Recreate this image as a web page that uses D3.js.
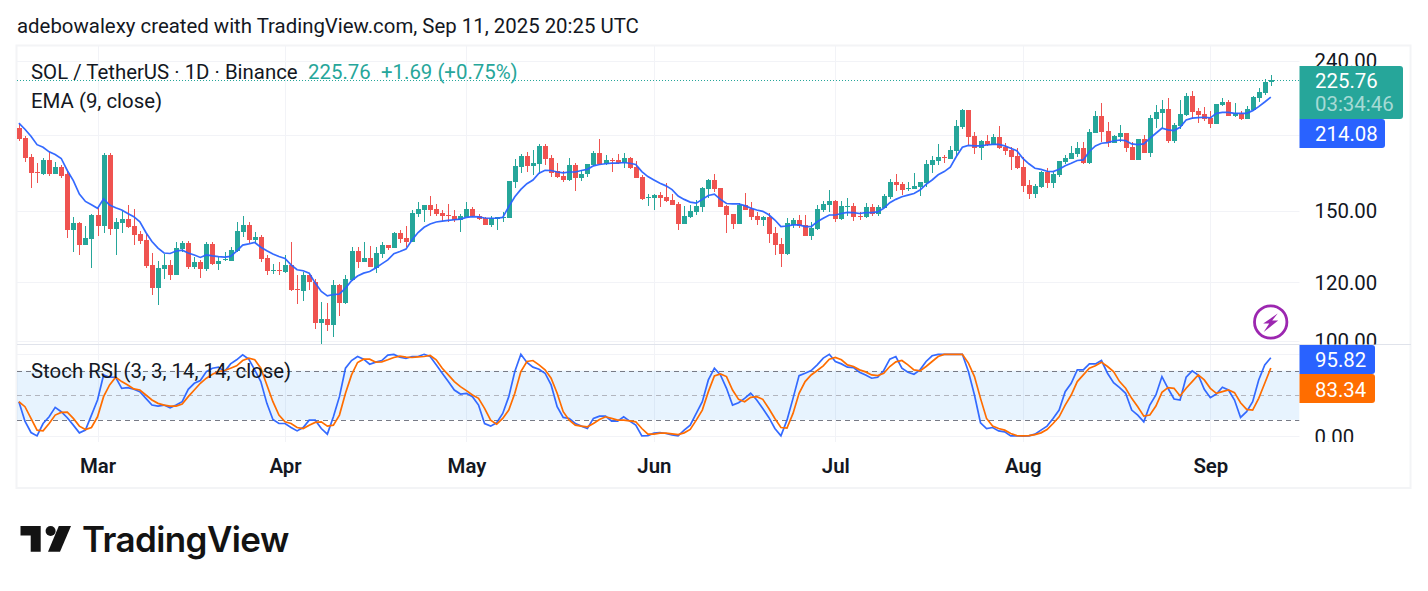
<!DOCTYPE html>
<html>
<head>
<meta charset="utf-8">
<script src="https://cdn.jsdelivr.net/npm/d3@7/dist/d3.min.js"></script>
<style>
  html, body { margin: 0; padding: 0; background: #fff; }
  svg { display: block; font-family: Roboto, sans-serif; }
</style>
</head>
<body>
<svg id="chart" width="1428" height="591"></svg>
<script>
// SOL/USDT daily candles, 16 Feb 2025 to 11 Sep 2025
const firstDay = "2025-02-16";
const lastDay = "2025-09-11";

const opens = [
194.6,188.6,177.6,169.4,168.4,175.9,168.4,172.1,168.2,141.3,
144.4,134.9,137.4,148.1,143.1,178.7,141.8,144.4,146.2,143.1,
139.6,137.0,126.7,117.9,125.1,126.7,122.8,133.2,135.7,125.9,
127.9,125.1,135.3,127.1,128.6,128.3,132.4,140.6,143.6,137.0,
138.3,129.5,124.3,124.7,124.0,126.7,117.6,116.8,122.8,120.1,
105.7,107.0,105.1,119.0,112.6,120.9,132.4,127.9,129.5,125.5,
131.2,134.9,133.6,140.0,137.9,136.2,148.5,150.4,152.8,150.9,
149.0,148.1,147.6,145.8,147.2,150.9,147.8,146.9,143.6,146.2,
146.7,146.7,164.2,172.1,178.2,172.7,173.8,183.8,177.0,169.8,
167.4,165.2,173.2,166.3,168.4,173.2,179.8,173.8,176.1,175.9,
174.3,177.0,172.1,166.8,156.5,156.2,157.6,156.7,155.2,153.3,
144.0,147.2,149.5,151.8,160.6,165.2,161.1,152.3,148.5,144.0,
152.8,150.9,147.6,145.8,147.2,140.0,135.3,131.2,143.6,145.8,
143.6,138.7,141.8,150.4,152.8,154.7,146.2,152.0,152.3,147.8,
147.2,151.8,148.5,151.3,156.7,164.2,163.2,160.6,160.6,161.6,
163.7,173.2,175.4,177.6,176.5,180.9,195.0,205.6,189.6,182.6,
186.6,184.3,189.0,183.2,181.5,178.2,172.1,162.7,158.1,161.6,
169.4,163.7,167.9,174.8,176.5,179.3,182.6,174.3,191.4,201.8,
192.6,185.5,189.0,191.4,183.2,175.9,187.8,179.8,199.9,203.7,
206.3,186.6,195.6,202.5,214.8,205.0,203.1,200.6,196.9,208.9,
210.8,201.8,203.1,199.9,205.6,213.5,216.9,224.07];

const highs = [
197.1,189.6,179.1,174.1,177.2,180.2,174.8,173.2,170.0,147.2,
145.1,143.1,148.5,151.2,179.8,179.6,146.5,149.9,152.8,150.9,
140.9,139.5,131.5,128.3,131.2,128.7,136.2,136.6,136.4,130.0,
128.7,136.2,136.2,129.8,131.9,133.9,144.9,147.6,144.9,140.5,
139.2,130.8,127.1,127.8,130.8,136.2,122.8,124.0,123.2,121.3,
112.9,112.6,120.9,119.4,122.8,134.1,134.1,136.2,134.5,133.9,
136.2,134.9,140.5,141.3,143.1,150.4,154.2,152.8,157.1,153.4,
150.4,153.3,150.4,148.5,154.2,151.8,148.5,147.2,147.6,147.2,
149.5,164.7,176.5,179.3,180.4,181.5,184.9,184.9,178.7,174.3,
170.0,177.0,174.3,170.5,173.8,180.9,187.8,178.7,177.0,179.3,
179.8,177.6,175.4,167.9,158.1,158.1,159.1,163.7,158.1,154.2,
152.3,152.8,155.2,161.6,165.8,168.4,161.1,152.8,148.5,153.7,
158.6,154.2,149.5,147.6,149.0,142.7,137.9,146.7,146.7,148.1,
148.1,144.9,152.8,154.7,160.1,155.2,154.7,156.2,153.7,149.5,
153.7,153.3,152.8,158.1,165.8,168.4,164.2,164.2,168.9,164.2,
175.9,178.2,184.9,178.7,183.8,199.3,206.3,205.6,192.0,187.2,
190.2,190.8,195.6,185.5,183.2,182.6,177.6,165.2,163.2,170.0,
171.6,169.4,175.4,178.7,183.8,186.0,186.0,193.8,205.0,210.2,
198.1,190.2,196.3,191.4,186.0,187.8,190.2,202.5,208.9,212.1,
213.5,197.5,212.1,216.9,218.2,206.9,207.6,205.0,209.5,213.5,
212.1,210.2,205.0,208.2,214.8,220.3,226.5,229.4];

const lows = [
186.6,175.0,161.1,163.9,167.9,167.5,168.4,166.3,137.9,132.0,
130.8,134.9,125.5,138.7,140.0,139.2,130.8,140.0,142.2,134.9,
135.3,125.5,115.4,111.9,121.4,120.9,122.8,132.0,125.1,125.1,
121.6,124.3,126.7,124.7,128.2,128.3,132.0,138.4,135.7,135.7,
127.9,122.8,123.2,122.8,123.6,116.8,112.2,113.3,117.2,103.8,
99.0,103.1,101.2,108.0,112.2,120.5,125.5,127.9,125.9,123.7,
129.5,132.8,133.6,135.7,134.1,136.2,147.2,144.9,147.6,147.6,
145.3,144.9,144.9,140.5,147.2,147.2,145.8,143.6,142.7,141.3,
144.9,146.7,161.1,168.9,169.4,167.9,168.4,173.2,166.8,166.3,
164.2,164.7,159.6,164.7,166.8,172.7,173.2,173.2,169.4,173.8,
171.6,171.0,166.3,155.2,152.3,150.4,151.8,154.2,152.8,141.3,
144.0,146.7,148.1,149.5,156.2,159.1,151.8,140.0,141.8,144.0,
150.4,145.8,143.6,143.1,135.7,130.8,125.9,130.8,142.2,142.2,
138.7,137.0,141.3,149.5,149.5,144.9,145.8,147.6,145.3,145.8,
146.7,147.6,147.6,151.3,155.7,159.6,157.6,159.6,160.6,157.1,
161.6,168.9,173.2,174.3,176.5,178.2,193.8,184.3,179.3,175.9,
183.8,184.3,182.1,178.7,170.5,171.0,159.1,155.7,156.2,161.1,
161.1,161.1,166.8,173.8,176.5,177.6,173.8,173.8,191.4,186.0,
183.2,185.5,186.0,180.4,175.9,175.9,179.8,177.6,194.4,194.4,
185.5,185.5,193.8,201.8,199.9,197.5,198.7,194.4,196.9,208.2,
201.8,201.2,199.3,199.9,205.0,210.8,215.5,221.7];

const closes = [
187.8,177.2,169.1,169.1,175.9,168.4,172.1,167.4,141.3,144.4,
134.9,137.9,148.1,143.1,178.7,141.8,144.9,146.2,142.7,139.2,
136.6,126.3,117.9,125.5,126.7,122.8,133.6,135.7,125.9,127.9,
125.1,135.3,127.1,128.3,128.9,132.8,140.9,143.6,137.0,138.3,
129.1,124.3,124.7,124.3,126.7,117.2,117.2,122.8,120.0,105.7,
107.0,105.1,119.0,112.6,121.3,132.4,127.9,129.5,125.9,131.6,
134.9,133.6,140.0,137.4,136.2,149.0,150.9,152.8,150.4,148.5,
147.6,147.8,145.8,147.6,150.9,147.6,146.2,143.6,146.7,147.2,
147.2,164.7,172.7,178.2,172.7,174.3,183.8,176.5,168.9,166.8,
165.2,173.2,166.3,168.4,173.8,179.8,173.8,175.9,175.7,174.3,
177.0,171.6,166.3,155.7,156.8,157.6,156.2,154.7,152.8,144.0,
147.6,149.9,152.3,161.1,165.2,160.6,151.8,148.1,144.0,152.8,
150.4,147.2,145.8,147.2,139.6,134.9,131.2,144.4,145.8,143.1,
138.7,142.2,150.9,153.3,154.7,146.2,152.3,152.3,147.2,147.5,
151.8,148.5,151.8,157.1,164.2,162.7,160.1,161.1,162.2,164.2,
173.8,175.9,177.6,177.2,181.5,195.6,205.6,189.0,182.6,186.6,
184.3,189.0,182.6,180.9,177.6,171.6,162.2,158.1,162.2,169.4,
163.7,168.4,175.4,177.0,179.8,182.6,174.3,192.0,201.8,192.0,
185.5,189.6,191.4,182.6,175.9,187.8,179.8,200.6,204.3,206.3,
186.6,196.3,203.1,214.8,204.3,202.5,199.9,196.9,209.5,210.8,
201.8,203.7,199.9,206.3,214.2,217.5,224.4,225.76];

const ema9 = [
197.3,193.6,189.4,184.5,183.0,180.4,178.9,176.7,170.2,164.9,
158.1,154.5,152.9,151.2,155.7,152.8,151.5,150.4,148.8,147.3,
145.0,140.2,136.3,133.5,131.5,131.3,132.3,132.7,131.5,130.7,
129.7,130.7,130.3,130.0,129.8,130.1,132.3,134.8,135.3,135.9,
133.9,132.4,131.1,130.1,129.3,126.7,124.8,124.4,123.5,119.7,
116.6,115.0,115.5,115.7,117.8,120.6,122.4,123.5,124.1,125.5,
127.1,128.7,131.2,132.1,133.1,137.0,140.2,142.5,144.0,144.9,
145.3,145.6,145.9,146.2,147.0,147.3,147.2,146.7,146.6,146.6,
147.0,152.0,156.8,160.4,163.3,165.2,168.7,170.3,170.2,169.4,
168.9,169.4,169.4,170.2,170.8,172.7,173.4,173.8,174.1,174.1,
174.5,174.1,173.4,169.6,167.0,165.2,163.5,162.2,160.3,157.1,
155.5,154.2,153.7,155.5,157.4,158.1,155.5,153.5,153.3,153.3,
152.5,151.3,150.4,149.8,148.2,145.8,142.8,143.1,143.6,143.6,
142.8,142.8,145.0,146.6,148.1,148.1,148.8,149.3,149.2,148.8,
149.2,149.2,149.5,151.2,153.9,155.5,156.8,157.6,158.4,160.1,
163.0,165.2,167.9,169.6,172.0,177.8,183.0,184.1,183.8,183.8,
184.3,184.7,184.7,183.8,182.4,181.1,176.8,173.8,171.4,170.8,
169.8,169.6,170.8,172.7,174.1,175.6,175.9,180.6,183.8,185.3,
185.7,186.6,187.2,186.8,184.9,184.5,184.9,188.2,191.2,194.2,
193.2,192.8,194.8,199.3,200.4,200.8,201.0,200.6,203.5,204.1,
204.1,203.5,203.5,203.5,205.2,207.8,210.8,214.08];

const stochK = [
42.1,18.4,4.5,0.4,15.5,23.7,35.2,29.9,22.5,13.5,
4.1,7.4,25.8,44.2,74.8,72.0,72.0,58.5,59.3,57.3,
54.4,46.2,38.0,36.8,38.0,34.8,38.0,42.1,57.3,64.6,
67.9,78.9,83.0,84.3,78.9,88.3,93.3,99.4,94.1,81.0,
66.7,40.1,20.4,15.5,15.5,10.6,6.5,10.6,19.6,19.6,
9.4,2.5,23.7,48.3,83.0,92.4,97.3,94.1,87.9,90.4,
92.4,99.0,99.8,96.5,94.9,97.3,97.3,100,97.3,87.1,
76.9,66.7,56.4,51.5,52.4,48.3,38.0,15.5,12.3,16.4,
27.8,48.3,78.9,100,90.0,84.3,81.8,76.9,62.6,36.0,
22.9,21.7,15.5,12.3,9.4,21.7,24.5,24.5,18.4,18.4,
23.7,18.4,13.5,0.4,0.8,3.7,4.5,3.3,1.6,0.4,
7.4,13.5,27.8,42.1,68.7,83.0,74.8,58.5,38.0,40.9,
46.2,52.4,44.2,33.9,22.9,9.4,0.4,19.6,46.2,74.0,
76.9,80.2,87.1,95.3,100,91.2,88.3,84.3,83.8,78.1,
74.8,70.8,72.0,80.2,94.1,97.3,83.0,78.1,75.7,81.0,
91.2,98.2,100,100,100,100,100,78.9,50.3,16.4,
9.4,10.6,6.5,5.3,0.4,0.4,0,0.4,2.5,7.4,
12.3,21.7,31.9,54.4,64.6,81.0,81.0,88.3,88.3,92.4,
76.9,65.4,59.3,52.4,31.9,25.8,17.6,38.0,50.3,72.8,
58.5,45.4,44.2,72.0,79.8,74.8,57.3,47.0,51.5,59.7,
56.4,44.2,22.9,29.9,42.1,68.7,87.1,95.82];

const stochD = [
42.1,36.0,21.7,7.4,6.5,15.5,25.8,29.0,29.4,21.7,
12.3,8.2,10.6,23.7,48.3,62.6,72.0,66.7,62.6,57.7,
56.4,50.3,44.2,40.1,38.0,36.8,36.8,39.3,48.3,56.4,
64.6,70.8,75.7,78.9,80.2,83.0,85.9,92.4,95.3,93.3,
83.0,62.6,42.1,25.8,17.6,15.5,10.6,9.4,13.5,16.8,
17.6,12.3,13.5,25.8,52.4,74.8,90.0,94.1,94.1,90.4,
90.8,93.3,96.1,97.8,96.5,96.1,96.9,97.3,98.6,93.3,
83.0,74.8,66.7,60.5,55.6,50.3,46.2,33.9,19.6,14.7,
21.7,31.9,52.4,78.9,91.2,92.4,87.1,81.0,70.8,52.4,
29.9,19.6,13.5,12.3,11.5,15.5,20.4,23.7,21.7,19.6,
19.6,18.8,17.6,9.4,2.5,2.5,3.7,3.7,2.9,2.0,
4.1,8.2,19.6,31.9,54.4,73.6,76.1,72.8,56.4,45.0,
42.1,47.4,48.3,45.0,33.9,21.7,10.6,9.8,27.8,52.4,
66.7,74.8,80.2,85.9,94.1,96.1,93.3,87.1,85.1,81.0,
78.5,74.8,74.0,76.9,85.1,90.8,92.4,87.1,81.0,79.8,
85.1,91.2,97.3,99.8,100,100,100,89.2,72.8,46.2,
21.7,12.3,9.4,7.4,3.3,0.8,0.4,0.8,2.0,4.1,
8.2,15.5,23.7,38.0,50.3,66.7,74.8,83.0,85.9,90.4,
85.1,78.9,66.7,58.5,46.2,36.0,24.5,25.8,36.8,53.6,
59.3,58.5,49.1,58.5,66.7,74.8,68.7,58.5,52.4,54.4,
56.4,53.2,40.9,32.7,31.9,46.2,64.6,83.34];

const priceTicks = [240, 150, 120, 100];
const priceGrid = [240, 190, 150, 120, 100];
const stochTicks = [0];
const stochGrid = [100, 0];
const stochBand = [20, 80];
const stochLevels = [
  { value: 80, colour: "#787b86" },
  { value: 50, colour: "#b2b5be" },
  { value: 20, colour: "#787b86" }
];

const lastPrice = closes[closes.length - 1];
const headerText = "adebowalexy created with TradingView.com, Sep 11, 2025 20:25 UTC";
const symbolText = "SOL / TetherUS · 1D · Binance";
const quoteText = ["225.76", "+1.69 (+0.75%)"];
const emaText = "EMA (9, close)";
const stochText = "Stoch RSI (3, 3, 14, 14, close)";
const countdownText = "03:34:46";

const UP = "#26a69a", DOWN = "#ef5350", BLUE = "#2962ff", ORANGE = "#ff6d00";
const GRID = "#f2f3f7", INK = "#131722", TEXT_SIZE = 20.4, LINE_WIDTH = 1.7;

const frame = { left: 17, right: 1411, top: 46, bottom: 488.5, plotRight: 1299.5, paneBreak: 344.5, axisTop: 442 };
const svg = d3.select("#chart");
const defs = svg.append("defs");
const addClip = (id, x, y, w, h) =>
  defs.append("clipPath").attr("id", id).append("rect").attr("x", x).attr("y", y).attr("width", w).attr("height", h);
addClip("price-clip", frame.left, frame.top, frame.plotRight - frame.left, frame.paneBreak - frame.top);
addClip("stoch-clip", frame.left, frame.paneBreak, frame.plotRight - frame.left, frame.axisTop - frame.paneBreak);
addClip("price-axis-clip", frame.plotRight, frame.top, 120, frame.paneBreak - frame.top);
addClip("stoch-axis-clip", frame.plotRight, frame.paneBreak, 120, frame.axisTop - frame.paneBreak);

const parseDay = d3.utcParse("%Y-%m-%d");
const days = d3.utcDay.range(parseDay(firstDay), d3.utcDay.offset(parseDay(lastDay), 1));
const x = d3.scaleUtc().domain([parseDay(firstDay), parseDay(lastDay)]).range([18.9, 1270.8]);
const y = d3.scaleLog().domain([100, 240]).range([340.65, 60.5]);
const yStoch = d3.scaleLinear().domain([0, 100]).range([436.2, 354.3]);
const crisp = v => Math.round(v) + 0.5;

// Header line above the chart frame
svg.append("text").attr("x", 17).attr("y", 33).attr("font-size", TEXT_SIZE).attr("fill", INK).text(headerText);

// Outer frame and the divider between the two panes
svg.append("rect").attr("x", frame.left - 0.5).attr("y", frame.top - 0.5)
  .attr("width", frame.right - frame.left).attr("height", frame.bottom - frame.top)
  .attr("fill", "none").attr("stroke", "#f3f4f6").attr("stroke-width", 2);

// Grid
const months = d3.utcMonth.range(d3.utcMonth.ceil(parseDay(firstDay)), parseDay(lastDay));
const grid = svg.append("g").attr("stroke", GRID).attr("stroke-width", 1);
grid.selectAll("line.v").data(months).join("line").attr("class", "v")
  .attr("x1", d => crisp(x(d))).attr("x2", d => crisp(x(d)))
  .attr("y1", frame.top).attr("y2", frame.axisTop);
grid.selectAll("line.p").data(priceGrid).join("line").attr("class", "p")
  .attr("x1", frame.left).attr("x2", frame.plotRight)
  .attr("y1", d => crisp(y(d))).attr("y2", d => crisp(y(d)));
grid.selectAll("line.s").data(stochGrid).join("line").attr("class", "s")
  .attr("x1", frame.left).attr("x2", frame.plotRight)
  .attr("y1", d => crisp(yStoch(d))).attr("y2", d => crisp(yStoch(d)));

svg.append("line").attr("x1", frame.left).attr("x2", frame.right)
  .attr("y1", frame.paneBreak).attr("y2", frame.paneBreak).attr("stroke", "#e0e3eb");

// Last price dotted marker line
svg.append("line").attr("x1", frame.left).attr("x2", frame.plotRight)
  .attr("y1", crisp(y(lastPrice))).attr("y2", crisp(y(lastPrice)))
  .attr("stroke", UP).attr("stroke-dasharray", "1 2");

// Candles
const candles = svg.append("g").attr("clip-path", "url(#price-clip)").attr("shape-rendering", "crispEdges");
const candle = candles.selectAll("g").data(days).join("g")
  .attr("fill", (d, i) => closes[i] >= opens[i] ? UP : DOWN);
candle.append("rect")
  .attr("x", d => Math.round(x(d)))
  .attr("width", 1)
  .attr("y", (d, i) => y(highs[i]))
  .attr("height", (d, i) => y(lows[i]) - y(highs[i]));
candle.append("rect")
  .attr("x", d => Math.round(x(d)) - 2)
  .attr("width", 5)
  .attr("y", (d, i) => y(Math.max(opens[i], closes[i])))
  .attr("height", (d, i) => Math.max(1, Math.abs(y(opens[i]) - y(closes[i]))));

// EMA(9) overlay
const lineFor = (scale, values) => d3.line()
  .x(d => x(d))
  .y((d, i) => scale(values[i]))(days);
svg.append("path").attr("clip-path", "url(#price-clip)")
  .attr("d", lineFor(y, ema9)).attr("fill", "none")
  .attr("stroke", BLUE).attr("stroke-width", LINE_WIDTH).attr("stroke-opacity", 0.95);

// Stochastic RSI pane
const stochPane = svg.append("g").attr("clip-path", "url(#stoch-clip)");
stochPane.append("rect").attr("x", frame.left).attr("width", frame.plotRight - frame.left)
  .attr("y", yStoch(stochBand[1])).attr("height", yStoch(stochBand[0]) - yStoch(stochBand[1]))
  .attr("fill", "#2196f3").attr("fill-opacity", 0.11);
stochPane.selectAll("line").data(stochLevels).join("line")
  .attr("x1", frame.left).attr("x2", frame.plotRight)
  .attr("y1", d => crisp(yStoch(d.value))).attr("y2", d => crisp(yStoch(d.value)))
  .attr("stroke", d => d.colour).attr("stroke-dasharray", "5 4");
stochPane.append("path").attr("d", lineFor(yStoch, stochK)).attr("fill", "none")
  .attr("stroke", BLUE).attr("stroke-width", LINE_WIDTH).attr("stroke-opacity", 0.95);
stochPane.append("path").attr("d", lineFor(yStoch, stochD)).attr("fill", "none")
  .attr("stroke", ORANGE).attr("stroke-width", LINE_WIDTH);

// Pane legends
const legend = svg.append("g").attr("font-size", TEXT_SIZE).attr("fill", INK);
const symbolLine = legend.append("text").attr("x", 31).attr("y", 79);
symbolLine.append("tspan").text(symbolText);
symbolLine.append("tspan").attr("x", 308).attr("fill", UP).text(quoteText[0]);
symbolLine.append("tspan").attr("x", 381).attr("fill", UP).text(quoteText[1]);
legend.append("text").attr("x", 31).attr("y", 108).text(emaText);
legend.append("text").attr("x", 31).attr("y", 378).text(stochText);

// Price and oscillator axes
const styleAxis = g => {
  g.select(".domain").remove();
  g.selectAll(".tick line").remove();
  g.selectAll(".tick text").attr("fill", INK).attr("font-size", TEXT_SIZE)
    .attr("font-family", "Roboto, sans-serif").attr("dy", "0.34em");
};
svg.append("g").attr("clip-path", "url(#price-axis-clip)").append("g")
  .attr("transform", `translate(${frame.plotRight},0)`)
  .call(d3.axisRight(y).tickValues(priceTicks).tickSize(0).tickPadding(15).tickFormat(d3.format(".2f")))
  .call(styleAxis);
svg.append("g").attr("clip-path", "url(#stoch-axis-clip)").append("g")
  .attr("transform", `translate(${frame.plotRight},0)`)
  .call(d3.axisRight(yStoch).tickValues(stochTicks).tickSize(0).tickPadding(15).tickFormat(d3.format(".2f")))
  .call(styleAxis);

// Time axis
svg.append("g").attr("transform", `translate(0,${frame.axisTop})`)
  .call(d3.axisBottom(x).tickValues(months).tickSize(0).tickPadding(17).tickFormat(d3.utcFormat("%b")))
  .call(g => {
    g.select(".domain").remove();
    g.selectAll(".tick text").attr("fill", INK).attr("font-size", TEXT_SIZE).attr("font-weight", 600)
      .attr("font-family", "Roboto, sans-serif");
  });

// Value flags on the right edge: flat on the left, rounded on the right
const flag = (top, bottom, right, fill) => {
  const r = 3, l = frame.plotRight, p = d3.path();
  p.moveTo(l, top); p.lineTo(right - r, top);
  p.arcTo(right, top, right, top + r, r); p.lineTo(right, bottom - r);
  p.arcTo(right, bottom, right - r, bottom, r); p.lineTo(l, bottom); p.closePath();
  svg.append("path").attr("d", p.toString()).attr("fill", fill);
};
const flagText = (yMid, text, opacity) => svg.append("text")
  .attr("x", 1315).attr("y", yMid).attr("dy", "0.35em").attr("font-size", TEXT_SIZE)
  .attr("fill", "#fff").attr("fill-opacity", opacity).text(text);

flag(66, 119, 1403, UP);
flagText(y(lastPrice) + 0.5, d3.format(".2f")(lastPrice), 1);
flagText(104.2, countdownText, 0.6);
flag(119, 148, 1385, BLUE);
flagText(133.6, d3.format(".2f")(ema9[ema9.length - 1]), 1);
flag(345, 374, 1375, BLUE);
flagText(360.1, d3.format(".2f")(stochK[stochK.length - 1]), 1);
flag(374, 403, 1375, ORANGE);
flagText(389.4, d3.format(".2f")(stochD[stochD.length - 1]), 1);

// Round purple badge with a lightning bolt
const badge = svg.append("g").attr("transform", "translate(1270.7,322)");
badge.append("circle").attr("r", 16.2).attr("fill", "#fff").attr("stroke", "#9c27b0").attr("stroke-width", 2.8);
badge.append("path").attr("d", "M7,-8.5 L-7.5,1.5 L-1.5,1.5 L-7,10 L7.5,-1.5 L1.5,-1.5 Z").attr("fill", "#9c27b0");

// Wordmark under the chart
const logo = svg.append("g").attr("fill", "#131313");
logo.append("path").attr("d", "M20.5,526 H40.7 V551.7 H30.7 V535.6 H20.5 Z");
logo.append("circle").attr("cx", 50.6).attr("cy", 531).attr("r", 5);
logo.append("path").attr("d", "M58.8,526 H71 L60,551.7 H48 Z");
logo.append("text").attr("x", 82).attr("y", 552).attr("font-family", "Inter, sans-serif")
  .attr("font-size", 35).attr("font-weight", 600).attr("letter-spacing", -0.6).text("TradingView");
</script>
</body>
</html>
